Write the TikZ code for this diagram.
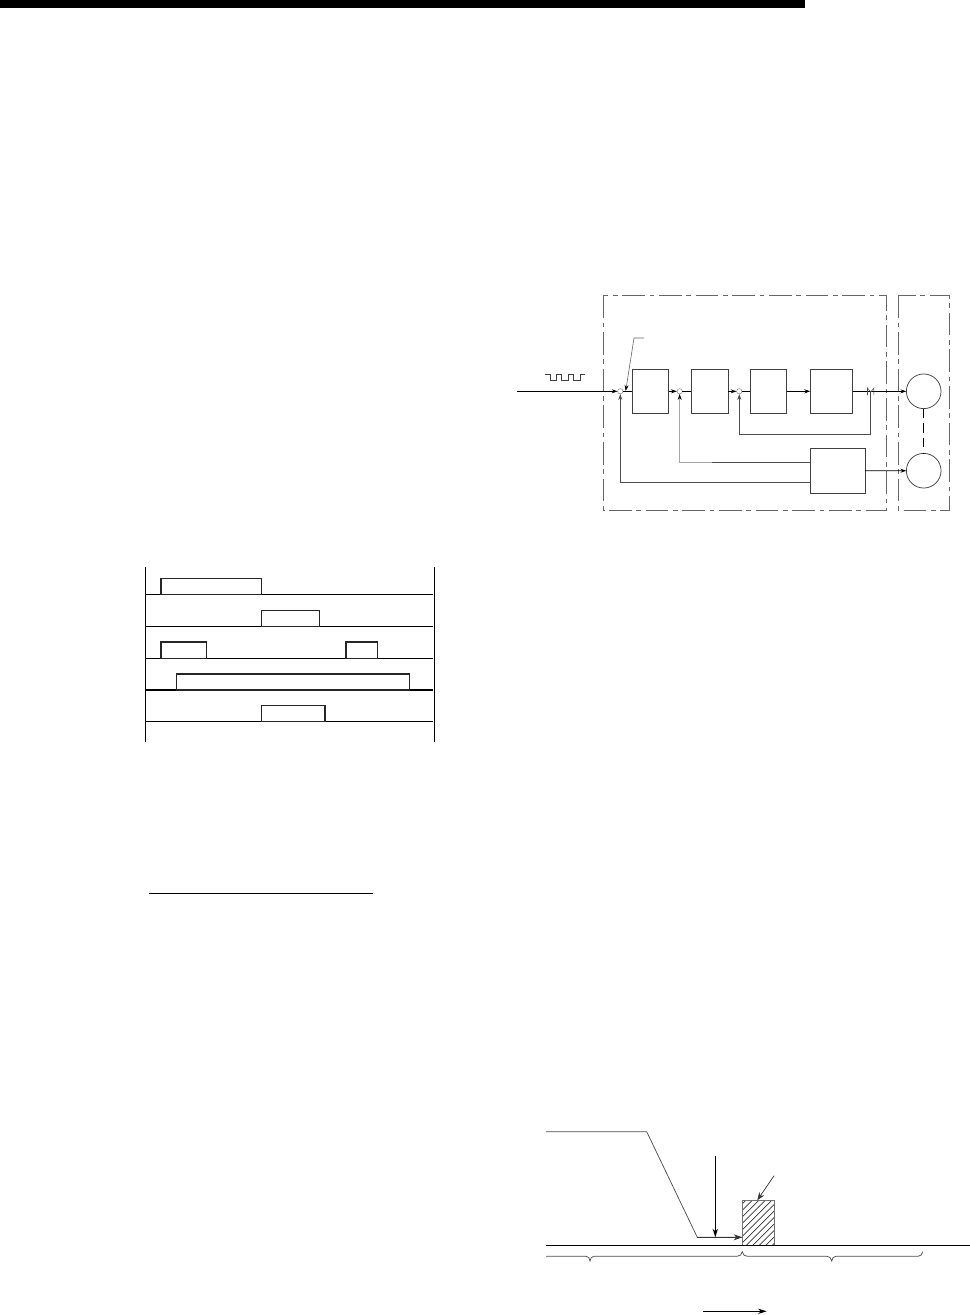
\documentclass[tikz,border=0pt]{standalone}
\usetikzlibrary{arrows.meta,calc}
\tikzset{
  x=0.75pt,y=-0.75pt,
  thin line/.style={line width=0.55pt,draw=black!75},
  box/.style={rectangle,thin line,inner sep=0pt,outer sep=0pt,fill=white},
  junction/.style={circle,draw=black!50,line width=0.35pt,inner sep=0pt,outer sep=0pt,minimum size=4pt,fill=white},
  motor/.style={circle,thin line,inner sep=0pt,outer sep=0pt,minimum size=26pt},
  flow/.style={line width=0.65pt,draw=black,-{Stealth[length=4.5pt,width=3pt]}},
  feedback/.style={line width=0.55pt,draw=black!70,-{Stealth[length=4.5pt,width=3pt]}},
  link/.style={line width=0.65pt,draw=black},
  frame/.style={line width=0.6pt,draw=black!60,dash pattern=on 17pt off 3.5pt on 3.5pt off 3.5pt},
  chart/.style={line width=0.8pt,draw=black},
  chartbox/.style={rectangle,draw=black!85,line width=0.8pt,fill=white,inner sep=0pt,outer sep=0pt},
  plan/.style={line width=0.55pt,draw=black!70},
  tiparrow/.style={line width=0.55pt,draw=black!80,-{Stealth[length=6pt,width=4.5pt]}},
  bigarrow/.style={line width=0.75pt,draw=black,-{Stealth[length=6.5pt,width=4pt]}},
}
\begin{document}
\begin{tikzpicture}
\useasboundingbox (0,0) rectangle (970,1315);
% header bar
\fill[black] (0,0) rectangle (805,8);

% block diagram frames
\draw[frame] (603.7,295.3) rectangle (886.3,510);
\draw[frame] (898.3,295.3) rectangle (949,510);

% block diagram nodes
\node[junction] (j1) at (620.3,391.3) {};
\node[junction] (j2) at (679.7,391.3) {};
\node[junction] (j3) at (739.3,391.3) {};
\node[box,minimum width=27.5pt,minimum height=33.5pt] (b1) at (650.35,391.3) {};
\node[box,minimum width=27.75pt,minimum height=33.5pt] (b2) at (709.8,391.3) {};
\node[box,minimum width=27.3pt,minimum height=33.5pt] (b3) at (768.5,391.3) {};
\node[box,minimum width=31.8pt,minimum height=33.5pt] (b4) at (831.5,391.3) {};
\node[box,minimum width=41pt,minimum height=33.75pt] (enc) at (837.65,470.8) {};
\node[motor] (m1) at (923.7,391.3) {};
\node[motor] (m2) at (923.7,470.7) {};
\coordinate (in) at (517.3,391.3);
\coordinate (tap) at (870.7,391.3);
\coordinate (fb3) at (739.3,434);
\coordinate (fb3r) at (870.7,434);
\coordinate (fb2) at (679.7,462.3);
\coordinate (fb2m) at (712,462.3);
\coordinate (fb1) at (620.3,482);
\coordinate (lead0) at (644,338);
\coordinate (lead1) at (634,338);
\coordinate (lead2) at (625.7,391);

% block diagram connectors
\draw[flow] (in) -- (j1);
\draw[link] (j1) -- (b1);
\draw[flow] (b1) -- (j2);
\draw[link] (j2) -- (b2);
\draw[flow] (b2) -- (j3);
\draw[link] (j3) -- (b3);
\draw[flow] (b3) -- (b4);
\draw[flow] (b4) -- (m1);
\draw[flow] (enc) -- (m2);
\draw[feedback] (tap) -- (fb3r) -- (fb3) -- (j3);
\draw[line width=0.55pt,draw=black!70] (enc.west |- fb2) -- (fb2m);
\draw[line width=0.55pt,draw=black!35,-{Stealth[length=4.5pt,width=3pt,black]}] (fb2m) -- (fb2) -- (j2);
\draw[feedback] (enc.west |- fb1) -- (fb1) -- (j1);
\draw[link,dash pattern=on 7pt off 4pt] (m1) -- (m2);
\draw[line width=0.45pt,draw=black!60,-{Stealth[length=4.5pt,width=3pt,black]}] (lead0) -- (lead1) -- (lead2);
% backlash mark
\draw[line width=0.4pt,draw=black!70] (867.5,395) -- (867.5,388) -- (870.7,392) -- (873.9,388) -- (873.9,395);
% pulse train
\draw[line width=0.45pt,draw=black!75] (545,374) -- (550,374) -- (550,380) -- (556.7,380) -- (556.7,374) -- (561.7,374) -- (561.7,380) -- (568,380) -- (568,374) -- (573,374) -- (573,380) -- (580,380) -- (580,374) -- (585,374);

% timing chart
\coordinate (tl) at (145.7,567);
\coordinate (bl) at (145.7,741.7);
\coordinate (tr) at (434.3,567);
\coordinate (br) at (434.3,741.7);
\draw[chart] (tl) -- (bl);
\draw[chart] (tr) -- (br);
\foreach \yy in {594.7,626.3,658.3,690,721.3}
  \draw[chart] (145.7,\yy) -- (433.3,\yy);
\foreach \xa/\xb/\ya/\yb in {161/261.3/578.7/594.7, 261.3/319.7/610.3/626.3, 161/206.3/642/658.3, 346/377.7/642/658.3, 176.7/409.3/674/690, 261.3/325/705.7/721.3}
  \draw[chartbox] (\xa,\ya) rectangle (\xb,\yb);

% lone rule
\draw[chart] (149,893.3) -- (373,893.3);

% motion profile
\coordinate (ax0) at (546,1245.3);
\coordinate (ax1) at (970,1245.3);
\coordinate (p0) at (546,1131.7);
\coordinate (p1) at (646.7,1131.7);
\coordinate (p2) at (697.3,1237.3);
\coordinate (p3) at (742.3,1237.3);
\begin{scope}
  \clip (742.3,1200.3) rectangle (774.3,1245.3);
  \foreach \k in {-48,-41.5,...,36}
    \draw[line width=0.42pt,draw=black!80] (742.3+\k,1245.3) -- (742.3+\k+48,1197.3);
\end{scope}
\draw[plan,draw=black!55] (742.3,1245.3) rectangle (774.3,1200.3);
\draw[chart] (ax0) -- (ax1);
\draw[plan] (p0) -- (p1) -- (p2) -- (p3);
\draw[line width=0.55pt,draw=black!80,-{Stealth[length=6.5pt,width=4.5pt]}] (p2) -- (p3);
\draw[bigarrow] (715.3,1156) -- (715.3,1237.3);
\draw[tiparrow] (774,1175.7) -- (757.3,1200.3);
\draw[plan] (546,1256.3) -- (586,1256.3) .. controls (588.5,1256.3) and (589.5,1258) .. (590,1261)
  .. controls (590.5,1258) and (591.5,1256.3) .. (594,1256.3) -- (737,1256.3)
  .. controls (740,1256.3) and (741.8,1254.5) .. (742.3,1251.7)
  .. controls (742.8,1254.5) and (744.5,1256.3) .. (747.3,1256.3) -- (827,1256.3)
  .. controls (829.5,1256.3) and (831.2,1258) .. (831.7,1261)
  .. controls (832.2,1258) and (833.5,1256.3) .. (836,1256.3) -- (918,1256.3)
  .. controls (920.5,1256.3) and (922.2,1254.5) .. (922.7,1251.7);
\draw[bigarrow] (703.3,1311.3) -- (766.7,1311.3);
\end{tikzpicture}
\end{document}
